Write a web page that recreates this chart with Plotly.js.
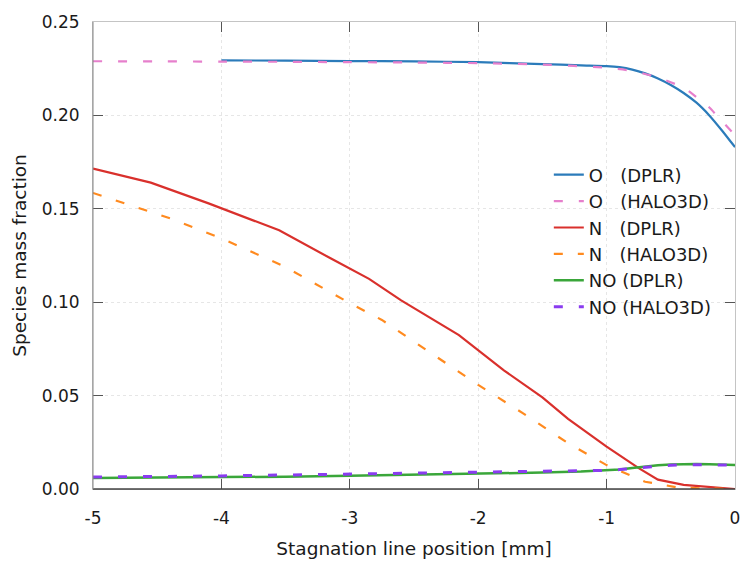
<!DOCTYPE html>
<html>
<head>
<meta charset="utf-8">
<script src="https://cdn.plot.ly/plotly-3.0.1.min.js"></script>
<style>html,body{margin:0;padding:0;background:#fff}#chart{width:740px;height:568px}</style>
</head>
<body>
<div id="chart"></div>
<script>
// Data
const xO_DPLR = [-4, -3.5, -3, -2.5, -2, -1.5, -1.2, -1.0, -0.9, -0.8, -0.7, -0.6, -0.5, -0.4, -0.3, -0.2, -0.1, 0];
const yO_DPLR = [0.2295, 0.2293, 0.2291, 0.2289, 0.2285, 0.2275, 0.2268, 0.2264, 0.2258, 0.2245, 0.2225, 0.2198, 0.2163, 0.2120, 0.2068, 0.2000, 0.1918, 0.1830];

const xO_HALO = [-5, -4.5, -4, -3.5, -3, -2.5, -2, -1.5, -1.0, -0.8, -0.6, -0.4, -0.3, -0.2, -0.1, 0];
const yO_HALO = [0.2290, 0.2289, 0.2288, 0.2287, 0.2285, 0.2283, 0.2280, 0.2272, 0.2255, 0.2238, 0.2203, 0.2148, 0.2098, 0.2042, 0.1968, 0.1895];

const xN_DPLR = [-5, -4.55, -4.1, -3.55, -3.15, -2.85, -2.6, -2.15, -1.8, -1.5, -1.3, -1.0, -0.75, -0.6, -0.4, -0.1, 0];
const yN_DPLR = [0.1715, 0.1640, 0.1529, 0.1385, 0.1235, 0.1125, 0.1010, 0.0824, 0.0635, 0.0490, 0.0375, 0.0227, 0.0112, 0.0050, 0.0022, 0.0004, 0.0];

const xN_HALO = [-5, -4.4, -4.0, -3.5, -3.0, -2.75, -2.0, -1.65, -1.3, -1.0, -0.7, -0.45, -0.2, 0];
const yN_HALO = [0.1585, 0.1449, 0.1342, 0.1188, 0.0995, 0.0905, 0.0557, 0.0405, 0.0245, 0.0128, 0.0039, 0.0009, 0.0002, 0.0];

const xNO = [-5, -4.5, -4, -3.5, -3, -2.5, -2, -1.5, -1.2, -1.0, -0.9, -0.8, -0.7, -0.6, -0.5, -0.4, -0.3, -0.2, -0.1, 0];
const yNO_DPLR = [0.0059, 0.0060, 0.0062, 0.0066, 0.0071, 0.0076, 0.0081, 0.0088, 0.0094, 0.0100, 0.0105, 0.0113, 0.0121, 0.0127, 0.0131, 0.0134, 0.0134, 0.0132, 0.0130, 0.0129];
const yNO_HALO = [0.0064, 0.0066, 0.0070, 0.0075, 0.0080, 0.0085, 0.0089, 0.0093, 0.0096, 0.0100, 0.0104, 0.0110, 0.0117, 0.0123, 0.0127, 0.0130, 0.0131, 0.0130, 0.0129, 0.0128];

const names = ['O\u00a0\u00a0\u00a0(DPLR)', 'O\u00a0\u00a0\u00a0(HALO3D)', 'N\u00a0\u00a0\u00a0(DPLR)', 'N\u00a0\u00a0\u00a0(HALO3D)', 'NO (DPLR)', 'NO (HALO3D)'];
const xTicks = [-5, -4, -3, -2, -1, 0];
const yTicks = [0, 0.05, 0.10, 0.15, 0.20, 0.25];

const traces = [
  {x: xO_DPLR, y: yO_DPLR, name: names[0], mode: 'lines', line: {color: '#2b7bba', width: 2.2, shape: 'spline', smoothing: 0.6}},
  {x: xO_HALO, y: yO_HALO, name: names[1], mode: 'lines', line: {color: '#e67fcc', width: 2.2, dash: '9px,16px', shape: 'spline', smoothing: 0.6}},
  {x: xN_DPLR, y: yN_DPLR, name: names[2], mode: 'lines', line: {color: '#d9302c', width: 2.2}},
  {x: xN_HALO, y: yN_HALO, name: names[3], mode: 'lines', line: {color: '#ff8a1f', width: 2.2, dash: '9px,15px'}},
  {x: xNO, y: yNO_DPLR, name: names[4], mode: 'lines', line: {color: '#3aa63a', width: 2.5}},
  {x: xNO, y: yNO_HALO, name: names[5], mode: 'lines', line: {color: '#8a3cf0', width: 3, dash: '9px,16px'}}
];

const tickFont = {family: 'DejaVu Sans', size: 17, color: '#1a1a1a'};
const titleFont = {family: 'DejaVu Sans', size: 18.5, color: '#1a1a1a'};
const legendFont = {family: 'DejaVu Sans', size: 18, color: '#1a1a1a'};

const layout = {
  width: 740, height: 568,
  margin: {l: 93, r: 5, t: 22, b: 79},
  paper_bgcolor: '#fff', plot_bgcolor: '#fff',
  font: tickFont,
  showlegend: true,
  legend: {x: 0.71, xanchor: 'left', y: 0.712, yanchor: 'top', bgcolor: 'rgba(0,0,0,0)', font: legendFont, tracegroupgap: 0},
  xaxis: {
    range: [-5, 0], tickvals: xTicks, ticktext: xTicks.map(String),
    showline: true, linecolor: '#c4c4c4', linewidth: 1, mirror: 'allticks',
    ticks: 'inside', ticklen: 10, tickcolor: '#555', tickwidth: 1,
    showgrid: true, gridcolor: '#e6e6e6', griddash: 'dot', gridwidth: 1,
    zeroline: false, tickfont: tickFont, ticklabelstandoff: 14, ticklabeloverflow: 'allow',
    automargin: false,
    title: {text: 'Stagnation line position [mm]', font: titleFont, standoff: 14}
  },
  yaxis: {
    range: [0, 0.25], tickvals: yTicks, tickformat: '.2f',
    showline: true, linecolor: '#c4c4c4', linewidth: 1, mirror: 'allticks',
    ticks: 'inside', ticklen: 10, tickcolor: '#555', tickwidth: 1,
    showgrid: true, gridcolor: '#e6e6e6', griddash: 'dot', gridwidth: 1,
    zeroline: false, tickfont: tickFont, ticklabelstandoff: 9, ticklabeloverflow: 'allow',
    automargin: false,
    title: {text: 'Species mass fraction', font: titleFont, standoff: 10}
  },
  shapes: [
    {type: 'line', xref: 'paper', yref: 'paper', x0: 0, x1: 1, y0: 0, y1: 0, line: {color: '#444', width: 1.5}},
    {type: 'line', xref: 'paper', yref: 'paper', x0: 0, x1: 0, y0: 0, y1: 1, line: {color: '#888', width: 1}}
  ]
};

Plotly.newPlot('chart', traces, layout, {displayModeBar: false, staticPlot: true});
</script>
</body>
</html>
